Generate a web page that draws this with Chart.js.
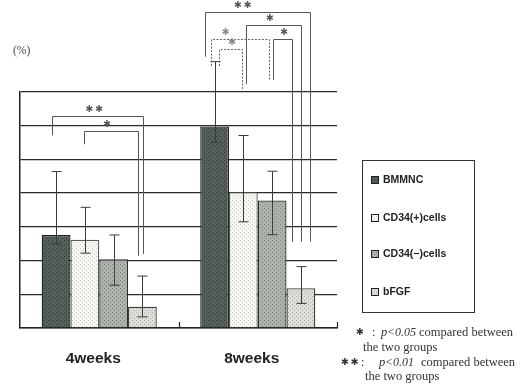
<!DOCTYPE html>
<html>
<head>
<meta charset="utf-8">
<script src="https://cdn.jsdelivr.net/npm/chart.js@4/dist/chart.umd.min.js"></script>
<style>
  html, body { margin: 0; padding: 0; background: #fff; }
  #wrap { width: 522px; height: 386px; position: relative; }
</style>
</head>
<body>
<div id="wrap"><canvas id="c" width="522" height="386"></canvas></div>
<script>
// Categories and series
const categories = ['4weeks', '8weeks'];
const seriesNames = ['BMMNC', 'CD34(+)cells', 'CD34(\u2212)cells', 'bFGF'];

// Mean values (%)
const bmmnc   = [27.6, 59.8];
const cd34pos = [26.2, 40.3];
const cd34neg = [20.4, 37.8];
const bfgf    = [6.3, 11.8];

// Error bar ends (upper / lower)
const bmmncHi   = [46.4, 79.0];
const bmmncLo   = [24.9, 55.0];
const cd34posHi = [35.8, 57.1];
const cd34posLo = [22.2, 31.5];
const cd34negHi = [27.6, 46.5];
const cd34negLo = [12.7, 27.7];
const bfgfHi    = [15.4, 18.2];
const bfgfLo    = [3.3, 7.3];

// Axis range and tick step
const yMin = 0, yMax = 70, yStep = 10;

// Significance brackets: category, leg offsets (in category widths),
// bar top level, leg end levels, marker text
const STAR = '\u2731';
const brackets = [
  { cat: 0, x1: -0.298, x2: 0.274, top: 62.9, end1: 57.2, end2: 22.0, mark: STAR + STAR, at: 0.46, dashed: false },
  { cat: 0, x1: -0.098, x2: 0.246, top: 58.4, end1: 54.5, end2: 21.4, mark: STAR, at: 0.42, dashed: false },
  { cat: 1, x1: -0.330, x2: 0.331, top: 93.7, end1: 80.5, end2: 25.6, mark: STAR + STAR, at: 0.356, dashed: false },
  { cat: 1, x1: -0.071, x2: 0.274, top: 89.8, end1: 72.4, end2: 25.6, mark: STAR, at: 0.425, dashed: false },
  { cat: 1, x1: -0.298, x2: 0.069, top: 85.7, end1: 77.7, end2: 73.6, mark: STAR, at: 0.245, dashed: true },
  { cat: 1, x1: -0.244, x2: -0.099, top: 82.9, end1: 77.7, end2: 70.8, mark: STAR, at: 0.55, dashed: true },
  { cat: 1, x1: 0.097, x2: 0.215, top: 85.7, end1: 73.6, end2: 25.6, mark: STAR, at: 0.57, dashed: false }
];

// Halftone-like fills
function halftone(base, dot) {
  const c = document.createElement('canvas');
  c.width = 4; c.height = 4;
  const g = c.getContext('2d');
  g.fillStyle = base; g.fillRect(0, 0, 4, 4);
  g.fillStyle = dot;
  g.fillRect(0, 0, 1, 1);
  g.fillRect(2, 2, 1, 1);
  return g.createPattern(c, 'repeat');
}
const fills = [
  halftone('#56605a', '#2e3431'),
  halftone('#f6f6f2', '#c9cac4'),
  halftone('#aeb2ac', '#7c807a'),
  halftone('#dcded7', '#a9aba4')
];
const edges = ['#1e2220', '#5a5c58', '#2a2c2a', '#3a3c3a'];

const values = [bmmnc, cd34pos, cd34neg, bfgf];
const hiEnds = [bmmncHi, cd34posHi, cd34negHi, bfgfHi];
const loEnds = [bmmncLo, cd34posLo, cd34negLo, bfgfLo];

const annotations = {
  id: 'annotations',
  afterDatasetsDraw(chart) {
    const ctx = chart.ctx;
    const xs = chart.scales.x, ys = chart.scales.y;
    const area = chart.chartArea;
    ctx.save();

    // Error bars
    ctx.strokeStyle = '#3a3a3a';
    ctx.lineWidth = 1;
    chart.data.datasets.forEach((ds, di) => {
      const meta = chart.getDatasetMeta(di);
      meta.data.forEach((bar, i) => {
        const x = Math.round(bar.x) + 0.5;
        const yh = ys.getPixelForValue(hiEnds[di][i]);
        const yl = ys.getPixelForValue(loEnds[di][i]);
        ctx.beginPath();
        ctx.moveTo(x, yh); ctx.lineTo(x, yl);
        ctx.moveTo(x - 5, yh); ctx.lineTo(x + 5, yh);
        ctx.moveTo(x - 5, yl); ctx.lineTo(x + 5, yl);
        ctx.stroke();
      });
    });

    // Small upward ticks at category boundaries
    const cw = xs.getPixelForValue(1) - xs.getPixelForValue(0);
    ctx.strokeStyle = '#222';
    ctx.lineWidth = 1.2;
    for (let i = 0; i < categories.length; i++) {
      const bx = Math.round(xs.getPixelForValue(i) + cw / 2) + 0.5;
      ctx.beginPath();
      ctx.moveTo(bx, area.bottom);
      ctx.lineTo(bx, area.bottom - 6);
      ctx.stroke();
    }

    // Significance brackets
    brackets.forEach(b => {
      const cx = xs.getPixelForValue(b.cat);
      const x1 = Math.round(cx + b.x1 * cw) + 0.5;
      const x2 = Math.round(cx + b.x2 * cw) + 0.5;
      const yt = Math.round(ys.getPixelForValue(b.top)) + 0.5;
      const y1 = ys.getPixelForValue(b.end1);
      const y2 = ys.getPixelForValue(b.end2);
      ctx.strokeStyle = b.dashed ? '#666' : '#555';
      ctx.lineWidth = 1;
      ctx.setLineDash(b.dashed ? [2, 1.5] : []);
      ctx.beginPath();
      ctx.moveTo(x1, y1); ctx.lineTo(x1, yt); ctx.lineTo(x2, yt); ctx.lineTo(x2, y2);
      ctx.stroke();
      ctx.setLineDash([]);
      ctx.fillStyle = b.dashed ? '#888' : '#555';
      ctx.font = '9.5px "DejaVu Sans"';
      ctx.textAlign = 'center';
      ctx.textBaseline = 'middle';
      ctx.fillText(b.mark.split('').join('\u2009'), x1 + (x2 - x1) * b.at, yt - 6.5);
    });

    // Category labels
    ctx.fillStyle = '#222';
    ctx.font = 'bold 15.5px "Liberation Sans", Arial, sans-serif';
    ctx.textAlign = 'center';
    ctx.textBaseline = 'middle';
    categories.forEach((c, i) => {
      ctx.fillText(c, xs.getPixelForValue(i) - 6, 359);
    });

    // Unit label
    ctx.fillStyle = '#444';
    ctx.font = '11.5px "Liberation Serif", serif';
    ctx.textAlign = 'left';
    ctx.fillText('(%)', 13, 51);

    // Legend box
    ctx.strokeStyle = '#333';
    ctx.lineWidth = 1;
    ctx.strokeRect(362.5, 160.5, 112, 152);
    const rows = [180, 218, 254, 292];
    chart.data.datasets.forEach((ds, di) => {
      const y = rows[di];
      ctx.fillStyle = fills[di];
      ctx.fillRect(371, y - 4, 8, 8);
      ctx.strokeStyle = '#222';
      ctx.lineWidth = 1;
      ctx.strokeRect(371.5, y - 3.5, 7, 7);
      ctx.fillStyle = '#222';
      ctx.font = 'bold 10.5px "Liberation Sans", Arial, sans-serif';
      ctx.textAlign = 'left';
      ctx.textBaseline = 'middle';
      ctx.fillText(ds.label, 383, y + 0.5);
    });

    // Footnotes
    const serif = '12.5px "Liberation Serif", serif';
    const serifIt = 'italic 12.5px "Liberation Serif", serif';
    function note(starX, star, y, colonX, pX, ltX, level, cmpX) {
      ctx.fillStyle = '#333';
      ctx.font = '9.5px "DejaVu Sans"';
      ctx.textAlign = 'left';
      ctx.textBaseline = 'middle';
      ctx.fillText(star, starX, y);
      ctx.font = serif;
      ctx.fillText(':', colonX, y);
      ctx.font = serifIt;
      ctx.fillText('p', pX, y);
      ctx.fillText('<' + level, ltX, y, 29);
      ctx.font = serif;
      ctx.fillText('compared between', cmpX, y, 98);
    }
    note(356, STAR, 333, 372, 381, 387, '0.05', 419);
    note(341, STAR + '\u2009' + STAR, 363, 361, 379, 385, '0.01', 421);
    ctx.font = serif;
    ctx.fillStyle = '#333';
    ctx.fillText('the two groups', 363, 347.5);
    ctx.fillText('the two groups', 365, 377);

    ctx.restore();
  }
};

new Chart(document.getElementById('c'), {
  type: 'bar',
  data: {
    labels: categories,
    datasets: values.map((v, i) => ({
      label: seriesNames[i],
      data: v,
      backgroundColor: fills[i],
      borderColor: edges[i],
      borderWidth: 1.3,
      categoryPercentage: 0.726,
      barPercentage: 1.0
    }))
  },
  options: {
    responsive: false,
    animation: false,
    devicePixelRatio: 1,
    layout: { padding: { top: 92, left: 20, right: 185, bottom: 50 } },
    plugins: { legend: { display: false }, tooltip: { enabled: false } },
    scales: {
      x: {
        grid: { display: false },
        border: { display: true, color: '#222', width: 1.5 },
        ticks: { display: false }
      },
      y: {
        min: yMin, max: yMax,
        ticks: { display: false, stepSize: yStep },
        grid: { color: '#2a2a2a', lineWidth: 1.3, drawTicks: false },
        border: { display: true, color: '#222', width: 1.5 }
      }
    }
  },
  plugins: [annotations]
});
</script>
</body>
</html>
